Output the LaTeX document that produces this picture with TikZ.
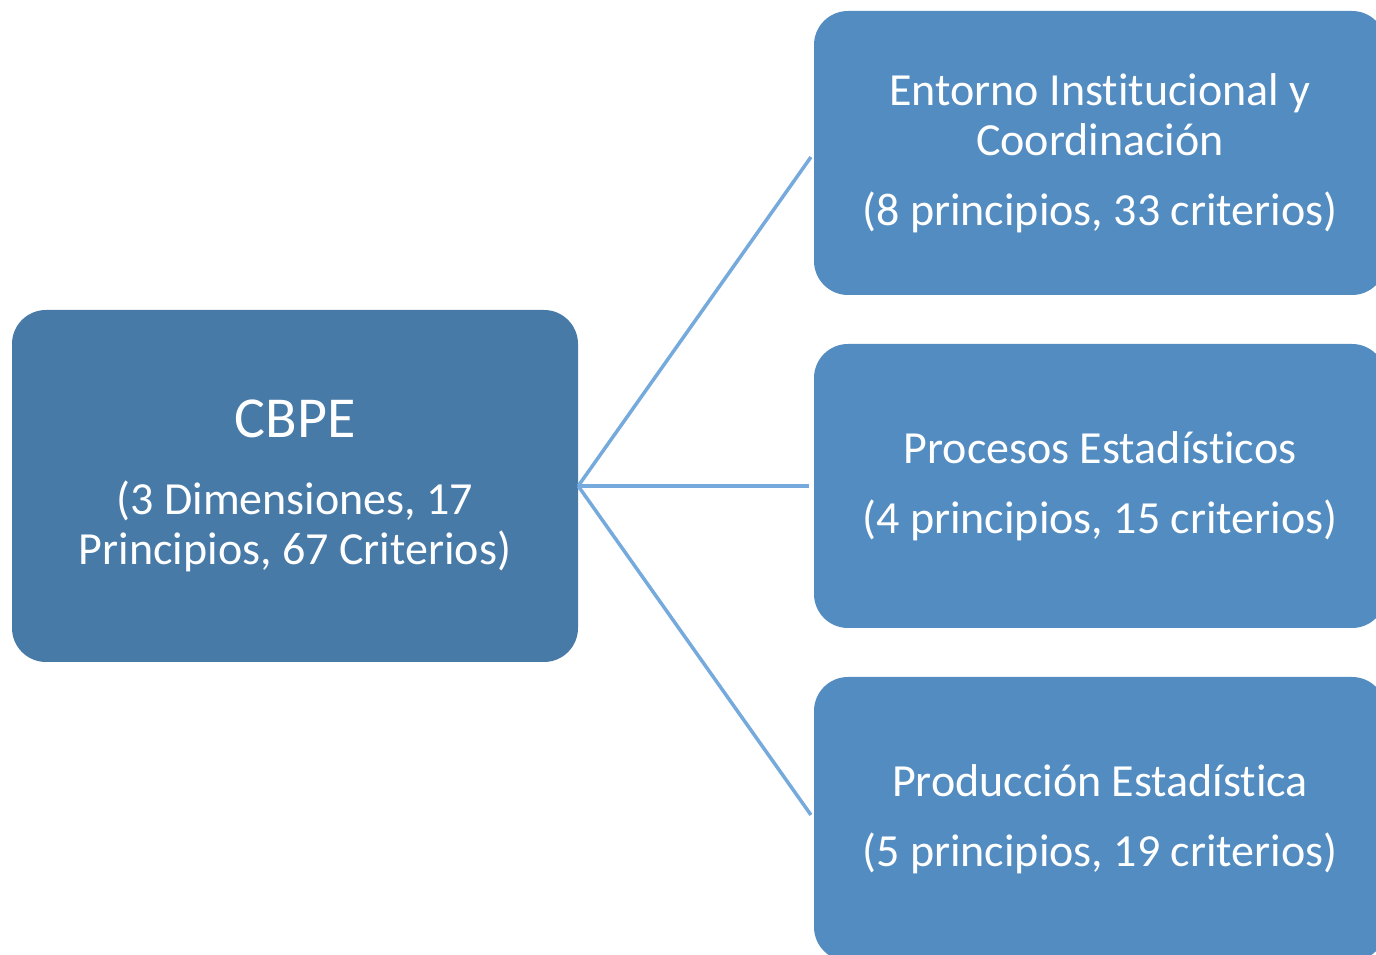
\documentclass[tikz,border=0pt]{standalone}
\usepackage{fontspec}
\setmainfont{Carlito}[Ligatures=NoCommon]
\definecolor{leftblue}{RGB}{72,122,168}
\definecolor{rightblue}{RGB}{83,140,193}
\definecolor{linkblue}{RGB}{118,170,221}
\tikzset{
  box/.style={draw=none, rounded corners=34pt, text=white, align=center,
    inner sep=0pt, font=\fontsize{46}{50}\selectfont},
  leftbox/.style={box, fill=leftblue, minimum width=566pt, minimum height=352pt},
  rightbox/.style={box, fill=rightblue, minimum width=572pt, minimum height=284pt},
  link/.style={draw=linkblue, line width=3.5pt, shorten >=5pt}
}
\begin{document}
\begin{tikzpicture}[x=1pt,y=1pt]
\useasboundingbox (0,0) rectangle (1376,955);
\clip (0,0) rectangle (1376,955);
\fill[white] (0,0) rectangle (1376,955);
\node[leftbox] (cbpe) at (295,469) {{\fontsize{58}{50}\selectfont CBPE}\\[27pt](3 Dimensiones, 17\\Principios, 67 Criterios)};
\node[rightbox] (ent) at (1100,802) {Entorno Institucional y\\Coordinación\\[20pt](8 principios, 33 criterios)};
\node[rightbox] (proc) at (1100,469) {Procesos Estadísticos\\[20pt](4 principios, 15 criterios)};
\node[rightbox] (prod) at (1100,136) {Producción Estadística\\[20pt](5 principios, 19 criterios)};
\draw[link] (cbpe.east) -- (ent.west);
\draw[link] (cbpe.east) -- (proc.west);
\draw[link] (cbpe.east) -- (prod.west);
\end{tikzpicture}
\end{document}
